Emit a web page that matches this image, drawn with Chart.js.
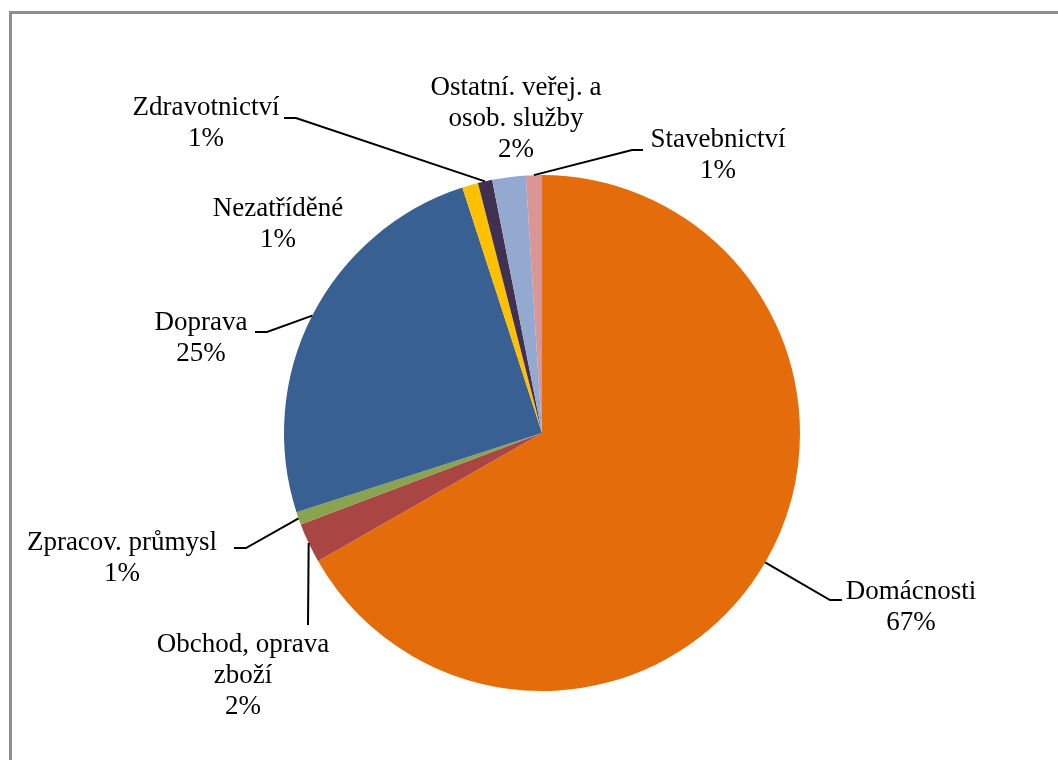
<!DOCTYPE html>
<html>
<head>
<meta charset="utf-8">
<script src="https://cdn.jsdelivr.net/npm/chart.js@4/dist/chart.umd.min.js"></script>
<style>
    html, body { margin: 0; padding: 0; background: #fff; }
    #wrap { width: 1058px; height: 760px; position: relative; }
</style>
</head>
<body>
<div id="wrap"><canvas id="pieChart" width="1058" height="760"></canvas></div>
<script>
// sectors, clockwise from 12 o'clock
const categories = [
    "Domácnosti",
    "Obchod, oprava zboží",
    "Zpracov. průmysl",
    "Doprava",
    "Nezatříděné",
    "Zdravotnictví",
    "Ostatní. veřej. a osob. služby",
    "Stavebnictví",
];
const shares = [66.8, 2.5, 0.8, 25.0, 1.0, 0.9, 2.1, 1.0];
const sliceColors = ["#e46c0a", "#a94543", "#89a34f", "#386093", "#ffc000", "#403152", "#93a9cf", "#d99694"];

// label text lines (percent is added at draw time)
const labelLines = [
    ["Domácnosti"],
    ["Obchod, oprava", "zboží"],
    ["Zpracov. průmysl"],
    ["Doprava"],
    ["Nezatříděné"],
    ["Zdravotnictví"],
    ["Ostatní. veřej. a", "osob. služby"],
    ["Stavebnictví"],
];

// where the labels sit (first line center) and the leader line points, in page px
const labelLayout = [
    { x: 911, y: 592, leader: [[830, 600], [842, 600]] },
    { x: 243, y: 645, leader: [[308, 625]] },
    { x: 122, y: 543, leader: [[246, 548], [234, 548]] },
    { x: 201, y: 323, leader: [[267, 332], [255, 332]] },
    { x: 278, y: 209, leader: null },
    { x: 206, y: 108, leader: [[296, 118], [284, 118]] },
    { x: 516, y: 88, leader: null },
    { x: 718, y: 140, leader: [[632, 150], [643, 150]] },
];

const LINE_H = 31;
const FONT = '27px "Liberation Serif", "Times New Roman", serif';

const framePlugin = {
    id: "frame",
    beforeDraw(chart) {
        const ctx = chart.ctx;
        ctx.save();
        ctx.strokeStyle = "#8e8e8e";
        ctx.lineWidth = 3;
        ctx.beginPath();
        ctx.moveTo(10.5, 760);
        ctx.lineTo(10.5, 12.5);
        ctx.lineTo(1058, 12.5);
        ctx.stroke();
        ctx.restore();
    },
};

const labelPlugin = {
    id: "pieLabels",
    afterDatasetsDraw(chart) {
        const ctx = chart.ctx;
        const meta = chart.getDatasetMeta(0);
        const total = shares.reduce((a, b) => a + b, 0);
        ctx.save();
        meta.data.forEach((arc, i) => {
            const lay = labelLayout[i];
            // leader line from the rim midpoint of the slice
            if (lay.leader) {
                const mid = (arc.startAngle + arc.endAngle) / 2;
                const rx = arc.x + Math.cos(mid) * arc.outerRadius;
                const ry = arc.y + Math.sin(mid) * arc.outerRadius;
                ctx.strokeStyle = "#000";
                ctx.lineWidth = 2;
                ctx.beginPath();
                ctx.moveTo(rx, ry);
                lay.leader.forEach((p) => ctx.lineTo(p[0], p[1]));
                ctx.stroke();
            }
            const lines = labelLines[i].concat([Math.round((shares[i] / total) * 100) + "%"]);
            ctx.fillStyle = "#000";
            ctx.font = FONT;
            ctx.textAlign = "center";
            ctx.textBaseline = "middle";
            lines.forEach((t, k) => ctx.fillText(t, lay.x, lay.y + k * LINE_H));
        });
        ctx.restore();
    },
};

new Chart(document.getElementById("pieChart").getContext("2d"), {
    type: "pie",
    data: {
        labels: categories,
        datasets: [
            {
                data: shares,
                backgroundColor: sliceColors,
                borderWidth: 0,
            },
        ],
    },
    options: {
        responsive: false,
        animation: false,
        layout: {
            padding: { left: 284, right: 258, top: 175, bottom: 69 },
        },
        plugins: {
            legend: { display: false },
            tooltip: { enabled: false },
        },
    },
    plugins: [framePlugin, labelPlugin],
});
</script>
</body>
</html>
